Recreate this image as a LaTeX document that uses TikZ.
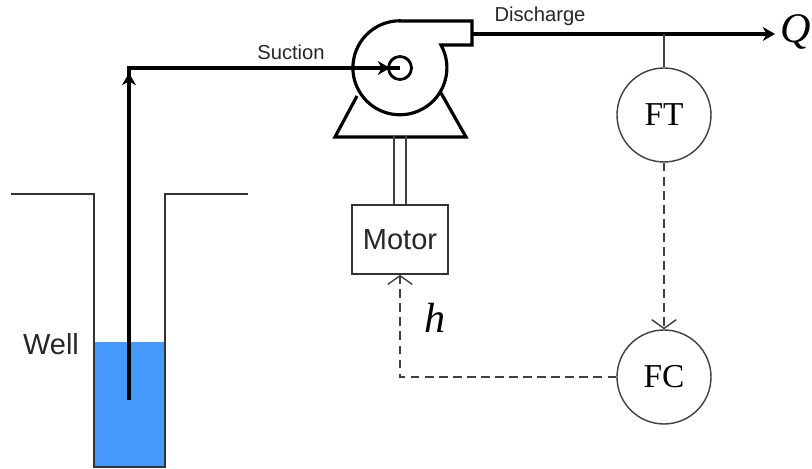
\documentclass[tikz,border=0pt]{standalone}
\usepackage{amsmath}
\usepackage{xcolor}
\usepackage{fontspec}
\setmainfont{Liberation Serif}
\newfontfamily\labelfont{Liberation Sans}
\usetikzlibrary{arrows.meta,positioning,calc}
\definecolor{waterblue}{HTML}{4499FB}

\begin{document}
\begin{tikzpicture}[
  instr/.style={circle, draw=black!75, line width=0.8pt, fill=white, minimum size=1.88cm,
                inner sep=0pt, font=\fontsize{19}{22}\selectfont},
  motorbox/.style={rectangle, draw=black!80, line width=0.9pt, fill=white, minimum width=1.92cm,
                   minimum height=1.38cm, font=\labelfont\fontsize{16.5}{20}\selectfont, text=black!85},
  eye/.style={circle, draw=black, line width=1.6pt, minimum size=0.46cm, inner sep=0pt},
  pipe/.style={line width=2.2pt, black, line join=miter},
  pipearrow/.style={pipe, -{Stealth[length=7pt,width=8pt]}},
  signal/.style={dash pattern=on 5pt off 3pt, line width=0.8pt, black!75,
                 -{Straight Barb[length=5pt,width=14pt]}},
  wall/.style={line width=0.85pt, black!80},
  lbl/.style={font=\labelfont\fontsize{11.5}{14}\selectfont, text=black!85},
  symb/.style={font=\itshape\fontsize{24}{28}\selectfont, inner sep=0pt}
]
  \useasboundingbox (0,0) rectangle (16.24,9.38);

  % well
  \fill[waterblue] (1.88,2.54) rectangle (3.30,0.04);
  \draw[wall] (0.22,5.5) -- (1.88,5.5) -- (1.88,0.04) -- (3.30,0.04) -- (3.30,5.5) -- (4.96,5.5);
  \node[lbl, font=\labelfont\fontsize{16.5}{20}\selectfont] (well) at (1.02,2.50) {Well};

  % pump
  \node[eye] (impeller) at (8.00,8.02) {};
  \draw[line width=1.8pt, line join=miter] (8.00,8.96) -- (9.44,8.96) -- (9.44,8.48) -- (8.82,8.48)
    arc[start angle=29, end angle=-270, radius=0.94] -- cycle;
  \draw[line width=1.8pt, line join=miter] (7.14,7.46) -- (6.70,6.64) -- (9.32,6.64) -- (8.82,7.52);

  % shaft and motor
  \node[motorbox] (motor) at (8.00,4.59) {Motor};
  \draw[line width=0.9pt, black!75] ($(motor.north)+(-0.12,0)$) -- ++(0,1.36);
  \draw[line width=0.9pt, black!75] ($(motor.north)+(0.12,0)$) -- ++(0,1.36);

  % pipes
  \coordinate (intake) at (2.58,1.38);
  \coordinate (bend) at (2.58,8.02);
  \coordinate (flow) at (15.50,8.70);
  \draw[pipe] (intake) -- (bend) -- (impeller.center);
  \draw[pipearrow] (intake) -- (2.58,7.92);
  \draw[pipearrow] (bend) -- (7.80,8.02);
  \draw[pipearrow] (9.44,8.70) -- (flow);

  % instruments
  \node[instr] (ft) at (13.28,7.08) {FT};
  \node[instr] (fc) at (13.28,1.84) {FC};
  \draw[line width=0.9pt, black!75] (ft.north) -- (13.28,8.70);
  \draw[signal] (ft) -- (fc);
  \draw[signal] (fc.west) -| (motor.south);

  % labels
  \node[lbl] (suction) at (5.82,8.34) {Suction};
  \node[lbl] (discharge) at (10.80,9.06) {Discharge};
  \node[symb] (flowlbl) at (15.91,8.74) {Q};
  \node[symb] (hlbl) at (8.70,3.02) {h};
\end{tikzpicture}
\end{document}
